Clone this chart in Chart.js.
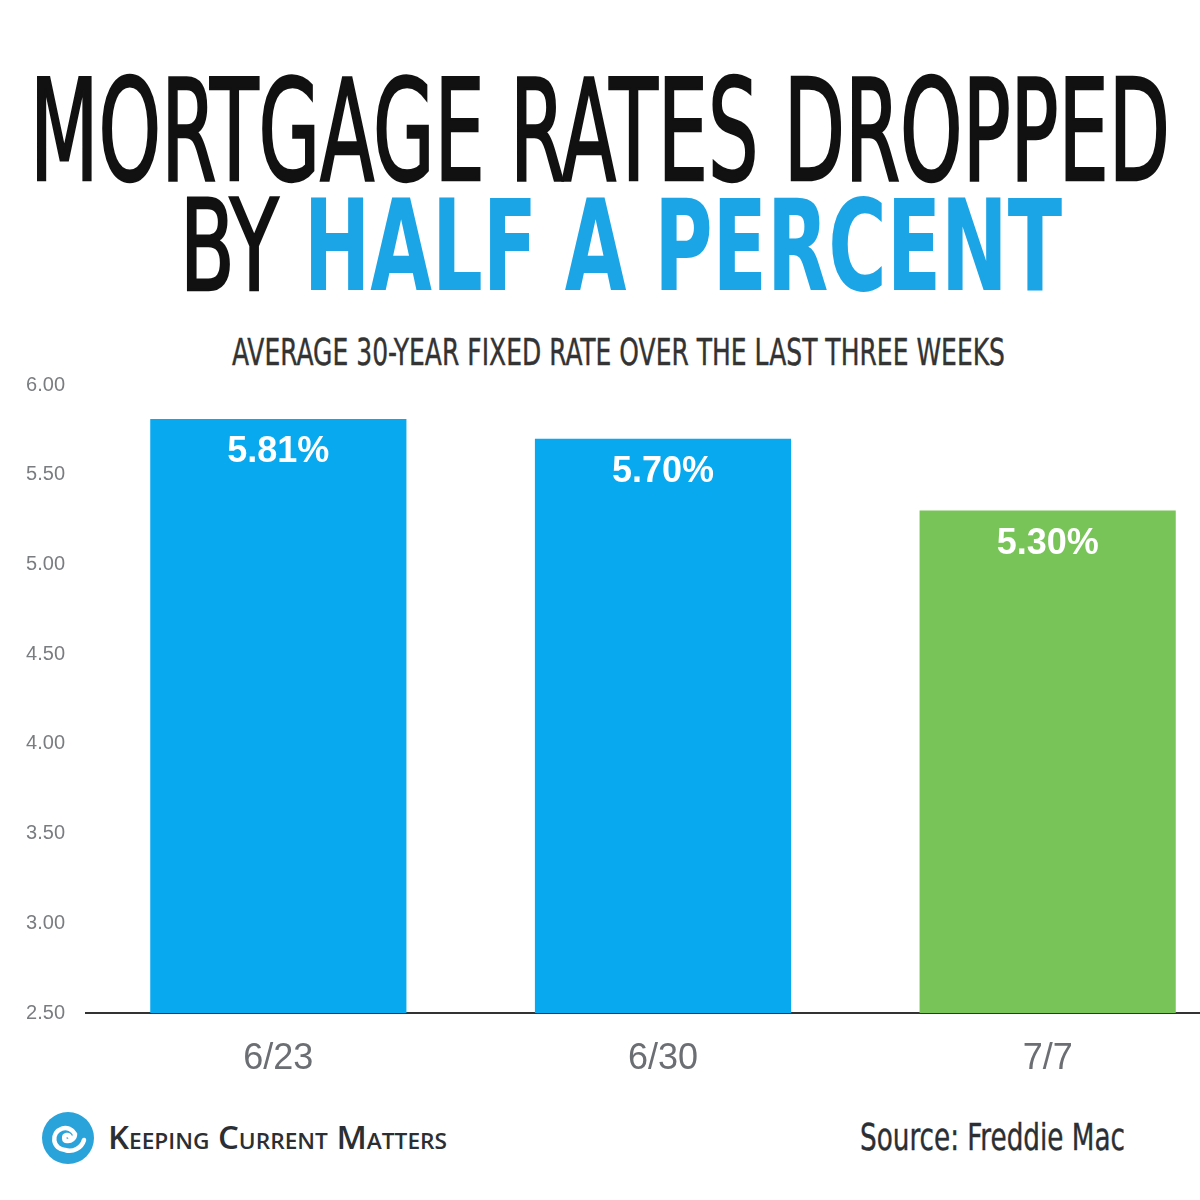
<!DOCTYPE html>
<html>
<head>
<meta charset="utf-8">
<script src="https://cdn.jsdelivr.net/npm/chart.js@4.4.0/dist/chart.umd.min.js"></script>
<style>
  html, body { margin: 0; padding: 0; background: #fff; }
  #page { position: relative; width: 1200px; height: 1200px; overflow: hidden; background: #fff; }
  .fit { position: absolute; white-space: nowrap; line-height: 1; transform-origin: 0 0; }
  .narrow { font-family: "Liberation Sans Narrow", "DejaVu Sans Condensed", "Liberation Sans", sans-serif; }
  #t1 { left: 30px; top: 62px; font-size: 140px; color: #111; -webkit-text-stroke: 2.5px #111; }
  #t2 { left: 180px; top: 183px; font-size: 127px; color: #111; }
  #t2 .by { -webkit-text-stroke: 2.5px #111; }
  #t2 b { color: #1ba5e6; font-weight: 700; }
  #sub { left: 232px; top: 334px; font-size: 37px; color: #333; -webkit-text-stroke: 0.4px #333; }
  #chartWrap { position: absolute; left: 0; top: 360px; width: 1240px; height: 720px; }
  #kcm { left: 108px; top: 1121px; font-size: 32px; color: #2b2f33; font-weight: 600;
         font-family: "Open Sans", "Noto Sans", sans-serif; font-variant: small-caps; }
  #src { left: 860px; top: 1118px; font-size: 38px; color: #2b2f33; -webkit-text-stroke: 0.4px #2b2f33; }
  #logo { position: absolute; left: 40px; top: 1110px; }
</style>
</head>
<body>
<div id="page">
  <div id="t1" class="fit narrow" data-w="1140">MORTGAGE RATES DROPPED</div>
  <div id="t2" class="fit narrow" data-w="882"><span class="by">BY</span> <b>HALF A PERCENT</b></div>
  <div id="sub" class="fit narrow" data-w="773">AVERAGE 30-YEAR FIXED RATE OVER THE LAST THREE WEEKS</div>

  <div id="chartWrap"><canvas id="rates"></canvas></div>

  <svg id="logo" width="56" height="56" viewBox="0 0 56 56">
    <circle cx="28" cy="28" r="26" fill="#2aa3da"/>
    <path d="M30 27 A3 3 0 1 0 27 31 A7 7 0 0 0 35 24 A11 11 0 1 0 25 40 A15 15 0 0 0 44 30"
          fill="none" stroke="#fff" stroke-width="4.5" stroke-linecap="round"/>
  </svg>
  <div id="kcm" class="fit" data-w="339">Keeping Current Matters</div>
  <div id="src" class="fit narrow" data-w="265">Source: Freddie Mac</div>
</div>

<script>
/* ── DATA ─────────────────────────────────────────── */
const weeks = ['6/23', '6/30', '7/7'];
const rates = [5.81, 5.70, 5.30];
const barColors = ['#08a9ef', '#08a9ef', '#79c459'];
const axisMin = 2.5;
const axisMax = 6.0;
const axisStep = 0.5;

/* ── squeeze headline text to its width ──────────── */
document.querySelectorAll('.fit').forEach(el => {
  const target = parseFloat(el.dataset.w);
  const natural = el.getBoundingClientRect().width;
  if (natural > 0) el.style.transform = 'scaleX(' + (target / natural) + ')';
});

/* ── value labels inside the bars ─────────────────── */
const barLabels = {
  id: 'barLabels',
  afterDatasetsDraw(chart) {
    const ctx = chart.ctx;
    const meta = chart.getDatasetMeta(0);
    ctx.save();
    ctx.fillStyle = '#ffffff';
    ctx.font = 'bold 36px "Liberation Sans", Arial, sans-serif';
    ctx.textAlign = 'center';
    ctx.textBaseline = 'middle';
    meta.data.forEach((bar, i) => {
      ctx.fillText(rates[i].toFixed(2) + '%', bar.x, bar.y + 33);
    });
    ctx.restore();
  }
};

new Chart(document.getElementById('rates'), {
  type: 'bar',
  data: {
    labels: weeks,
    datasets: [{
      data: rates,
      backgroundColor: barColors,
      borderWidth: 0,
      categoryPercentage: 1,
      barPercentage: 0.666,
    }],
  },
  options: {
    responsive: true,
    maintainAspectRatio: false,
    animation: false,
    layout: { padding: { top: 14, right: 0, left: 0, bottom: 0 } },
    plugins: {
      legend: { display: false },
      tooltip: { enabled: false },
    },
    scales: {
      x: {
        afterFit: s => { s.height = 67; },
        grid: { display: false },
        border: { display: true, color: '#333', width: 2 },
        ticks: {
          color: '#6b6e72',
          padding: 16,
          font: { size: 36, family: '"Liberation Sans", Arial, sans-serif' },
        },
      },
      y: {
        min: axisMin,
        max: axisMax,
        afterFit: s => { s.width = 86; },
        grid: { display: false },
        border: { display: false },
        ticks: {
          stepSize: axisStep,
          color: '#7a7d80',
          padding: 13,
          font: { size: 20, family: '"Liberation Sans", Arial, sans-serif' },
          callback: v => Number(v).toFixed(2),
        },
      },
    },
  },
  plugins: [barLabels],
});
</script>
</body>
</html>
